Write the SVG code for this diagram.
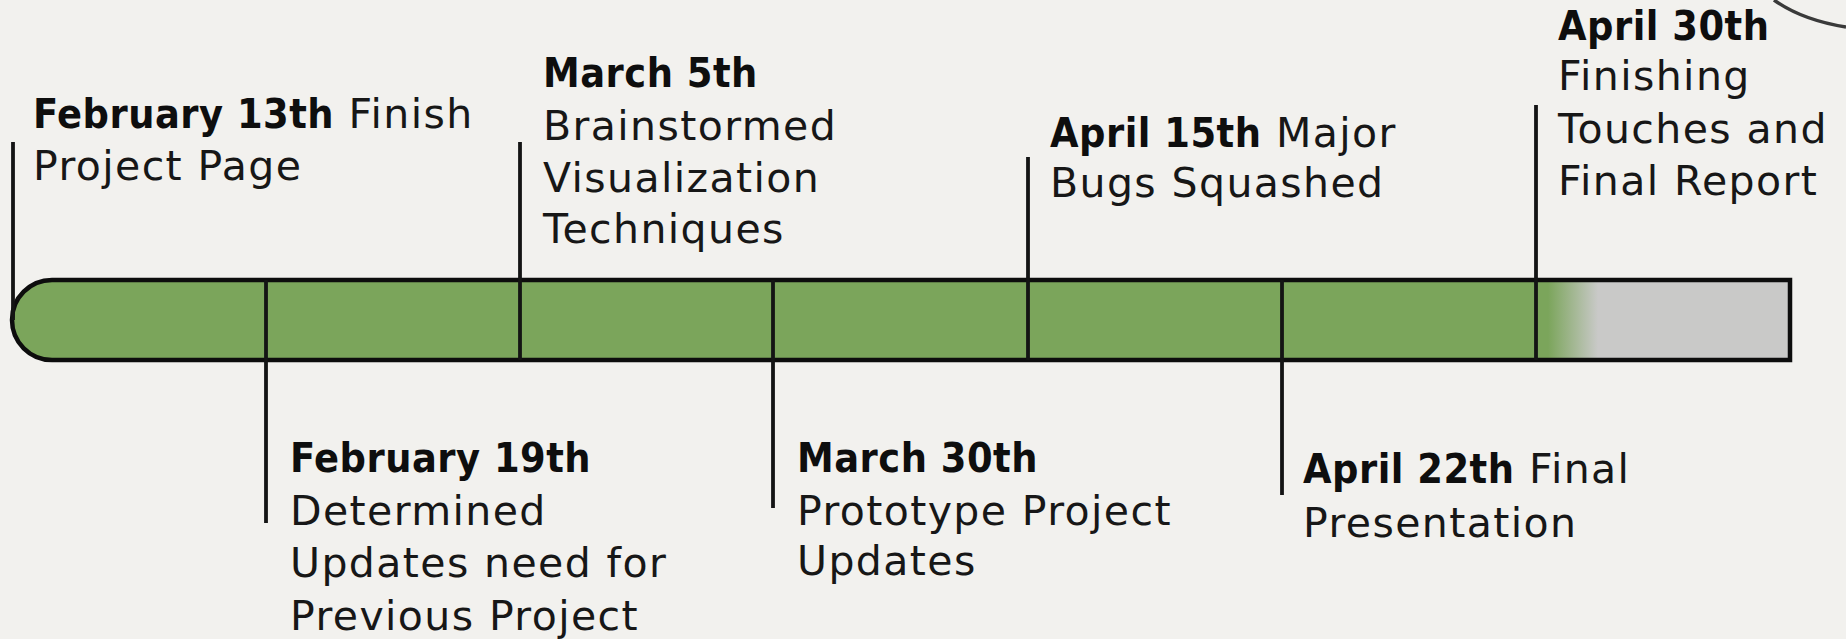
<svg xmlns="http://www.w3.org/2000/svg" width="1846" height="639" viewBox="0 0 1846 639">
  <defs>
    <linearGradient id="barFill" gradientUnits="userSpaceOnUse" x1="1548" y1="0" x2="1598" y2="0">
      <stop offset="0" stop-color="#7ba55b"/>
      <stop offset="1" stop-color="#c9c9c8"/>
    </linearGradient>
    <style>
      .bg { fill: #f2f1ee; }
      .bar { fill: url(#barFill); stroke: #0d0d0d; stroke-width: 4.5; }
      .tick { stroke: #141414; stroke-width: 3.8; fill: none; }
      .lbl { font-family: "DejaVu Sans", "Liberation Sans", sans-serif; font-size: 41px; fill: #171717; letter-spacing: 1.4px; }
      .date { font-family: "DejaVu Sans Condensed", "DejaVu Sans", sans-serif; font-weight: bold; letter-spacing: 0.5px; fill: #0e0e0e; }
      .arc { stroke: #3a3a3a; stroke-width: 3.5; fill: none; }
    </style>
  </defs>
  <rect class="bg" x="0" y="0" width="1846" height="639"/>
  <path class="arc" d="M 1774 0 Q 1802 20 1846 27"/>

  <g id="timeline-bar">
    <path class="bar" d="M 52 280 H 1790 V 360 H 52 A 40 40 0 0 1 52 280 Z"/>
  </g>

  <g id="connectors">
    <line class="tick" x1="13" y1="142" x2="13" y2="320"/>
    <line class="tick" x1="266" y1="280" x2="266" y2="523"/>
    <line class="tick" x1="520" y1="142" x2="520" y2="360"/>
    <line class="tick" x1="773" y1="280" x2="773" y2="508"/>
    <line class="tick" x1="1028" y1="157" x2="1028" y2="360"/>
    <line class="tick" x1="1282" y1="280" x2="1282" y2="495"/>
    <line class="tick" x1="1536" y1="105" x2="1536" y2="360"/>
  </g>

  <g id="feb13">
    <text class="lbl" x="33" y="128"><tspan class="date">February 13th</tspan> Finish</text>
    <text class="lbl" x="33" y="180">Project Page</text>
  </g>

  <g id="feb19">
    <text class="lbl date" x="290" y="472">February 19th</text>
    <text class="lbl" x="290" y="525">Determined</text>
    <text class="lbl" x="290" y="577">Updates need for</text>
    <text class="lbl" x="290" y="630">Previous Project</text>
  </g>

  <g id="mar5">
    <text class="lbl date" x="543" y="87">March 5th</text>
    <text class="lbl" x="543" y="140">Brainstormed</text>
    <text class="lbl" x="543" y="192">Visualization</text>
    <text class="lbl" x="543" y="243">Techniques</text>
  </g>

  <g id="mar30">
    <text class="lbl date" x="797" y="472">March 30th</text>
    <text class="lbl" x="797" y="525">Prototype Project</text>
    <text class="lbl" x="797" y="575">Updates</text>
  </g>

  <g id="apr15">
    <text class="lbl" x="1050" y="147"><tspan class="date">April 15th</tspan> Major</text>
    <text class="lbl" x="1050" y="197">Bugs Squashed</text>
  </g>

  <g id="apr22">
    <text class="lbl" x="1303" y="483"><tspan class="date">April 22th</tspan> Final</text>
    <text class="lbl" x="1303" y="537">Presentation</text>
  </g>

  <g id="apr30">
    <text class="lbl date" x="1558" y="40">April 30th</text>
    <text class="lbl" x="1558" y="90">Finishing</text>
    <text class="lbl" x="1558" y="143">Touches and</text>
    <text class="lbl" x="1558" y="195">Final Report</text>
  </g>
</svg>
